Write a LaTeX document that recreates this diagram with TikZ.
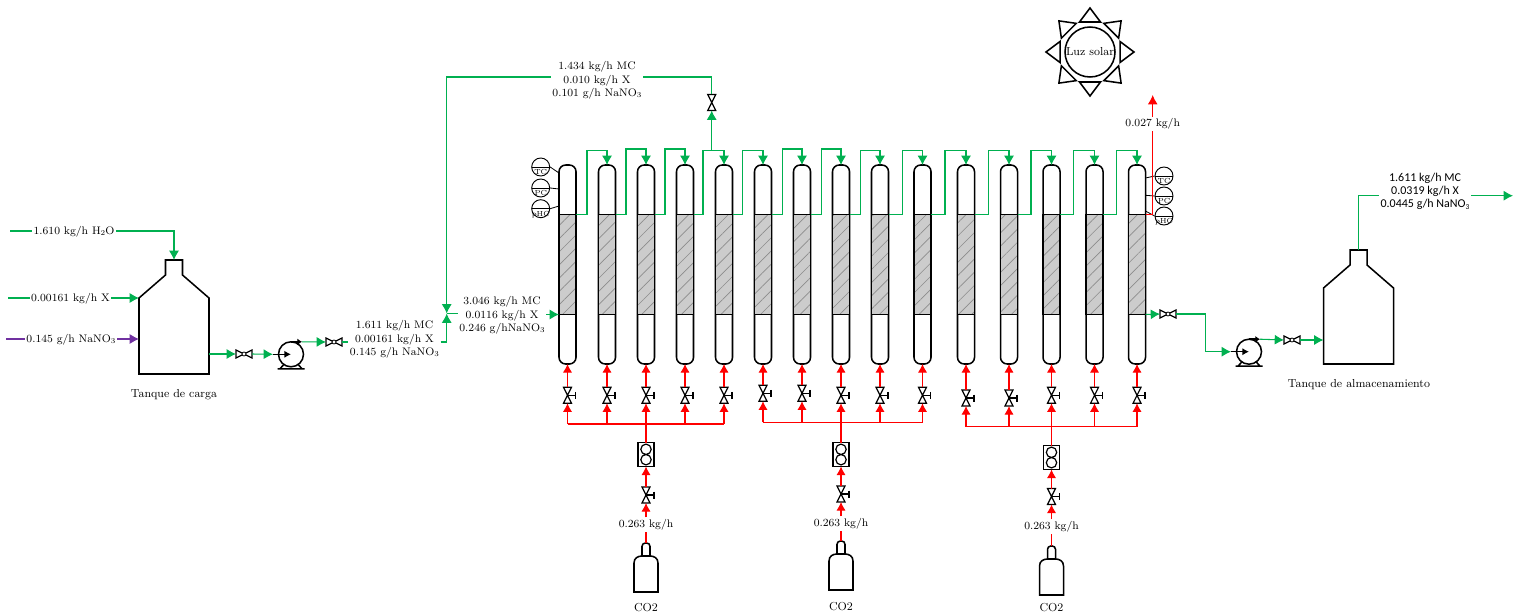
\documentclass[tikz,border=0pt]{standalone}
\usepackage{fontspec}
\newfontfamily\calfont{Carlito}
\usetikzlibrary{arrows.meta,patterns.meta,calc}
\definecolor{flowgreen}{HTML}{00B050}
\definecolor{flowred}{HTML}{FF0000}
\definecolor{flowpurple}{HTML}{7030A0}
\definecolor{bedgray}{HTML}{CCCCCC}
\newcommand{\lowidx}[1]{\raisebox{-0.8pt}{\fontsize{5.6}{5.6}\selectfont #1}}
\newcommand{\nano}{NaNO\lowidx{3}}
\begin{document}
\begin{tikzpicture}[
x=0.75pt,y=-0.75pt,
font=\fontsize{8.7}{10}\selectfont,
sym/.style={draw=black,line width=0.9pt,line join=miter},
sym2/.style={draw=black,line width=1.15pt},
tube/.style={sym2,rectangle,rounded corners=5pt,minimum width=12.75pt,minimum height=149.25pt,inner sep=0pt,outer sep=0pt},
bed/.style={sym2,rectangle,minimum width=12.75pt,minimum height=75pt,inner sep=0pt,outer sep=0pt,
preaction={fill=bedgray},pattern={Lines[angle=45,distance=7pt,line width=0.5pt]},pattern color=black!45},
lbl/.style={align=center,inner sep=1pt},
fl/.style={lbl,font=\fontsize{8.2}{10}\selectfont},
flow/.style={flowgreen,line width=0.8pt},
flowarr/.style={flow,-{Latex[length=7pt,width=7.5pt]}},
feed/.style={flowpurple,line width=0.8pt},
feedarr/.style={feed,-{Latex[length=7pt,width=7.5pt]}},
gas/.style={flowred,line width=0.8pt},
gasarr/.style={gas,-{Latex[length=6.5pt,width=7pt]}},
instr/.style={circle,draw=black,line width=0.7pt,minimum size=13.5pt,inner sep=0pt,font=\fontsize{5.5}{5.5}\selectfont,
path picture={\draw[black,line width=0.7pt] (path picture bounding box.west) -- (path picture bounding box.east);}},
lead/.style={black,line width=0.6pt},
tank/.pic={
\draw[sym2] (-8.5,15) -- (-8.5,0) -- (8.5,0) -- (8.5,15) -- (35,38) -- (35,114) -- (-35,114) -- (-35,38) -- cycle;
\coordinate (-n) at (0,0); \coordinate (-w) at (-35,38); \coordinate (-sw) at (-35,79); \coordinate (-se) at (35,94);
},
hvalve/.pic={
\draw[sym,fill=white] (-8,-4) -- (8,4) -- (8,-4) -- (-8,4) -- cycle;
\draw[sym,fill=white,line width=0.6pt] (0,0) circle (2);
\coordinate (-w) at (-8,0); \coordinate (-e) at (8,0);
},
vvalve/.pic={
\draw[sym,fill=white] (-4,-8) -- (4,-8) -- (-4,8) -- (4,8) -- cycle;
\coordinate (-n) at (0,-8); \coordinate (-s) at (0,8);
},
cvalve/.pic={
\draw[sym,fill=white] (-4,-8) -- (4,-8) -- (-4,8) -- (4,8) -- cycle;
\draw[sym] (0,0) -- (8,0) (8,-3.5) -- (8,3.5);
\coordinate (-n) at (0,-8); \coordinate (-s) at (0,8);
},
pump/.pic={
\draw[sym2,fill=black] (-13.5,14.5) -- (13.5,14.5) (-11,14.5) -- (-7,10) (11,14.5) -- (7,10);
\draw[sym2,fill=white] (0,0) circle (12.5);
\draw[sym2,-{Latex[length=5pt,width=5.5pt]}] (-18,0) -- (0,0);
\draw[sym2,-{Latex[length=3.5pt,width=5pt]}] (0,-12.5) -- (11,-12.5);
\coordinate (-w) at (-18,0); \coordinate (-o) at (11,-12.5);
},
rotameter/.pic={
\draw[sym2,line width=1.3pt,fill=white] (-8,-12) rectangle (8,12);
\draw[sym] (0,-5.2) circle (5.2) (0,5.2) circle (5.2);
\coordinate (-n) at (0,-12); \coordinate (-s) at (0,12);
},
cylinder/.pic={
\draw[sym2,fill=white] (-12,49) -- (-12,20) .. controls (-12,15) and (-8,13) .. (-4,13) -- (4,13) .. controls (8,13) and (12,15) .. (12,20) -- (12,49) -- cycle;
\draw[sym2,rounded corners=2.5pt] (-4,13) -- (-4,0) -- (4,0) -- (4,13);
\coordinate (-n) at (0,0);
}
]
\useasboundingbox (0,0) rectangle (1515,613);

\foreach \n/\xx/\vy in {1/567.5/395.3,2/607/395.3,3/646/395.3,4/685/395.3,5/724/395.3,
6/763/393.3,7/802/393.3,8/841/395.3,9/880/395.3,10/922.5/395.3,
11/966/398,12/1009/398,13/1051.5/395.3,14/1094.5/395.3,15/1137/395.3}{
\node[tube] (c\n) at (\xx,264.5) {};
\node[bed] (b\n) at (\xx,264.5) {};
\pic (v\n) at (\xx,\vy) {cvalve};
\draw[gasarr] (v\n-n) -- (c\n.south);
}

\foreach \a/\b/\tx/\ty in {1/2/587/150.7,2/3/626/149,3/4/665/149,4/5/703/150.3,5/6/742.7/150.7,
6/7/782.3/149,7/8/821.7/149,8/9/860.3/150.7,9/10/902.3/150.7,10/11/945/150.7,
11/12/988.3/150.7,12/13/1031/150.7,13/14/1073.7/150.7,14/15/1116.7/150.7}{
\draw[flowarr] (b\a.north east) -| (\tx,\ty) -| (c\b.north);
}

\foreach \g/\a/\b/\xx/\hy/\ry/\cy/\sy/\ly/\ty in {1/1/5/646/424/454.5/495/543/524.5/607.5,
2/6/10/841/422.3/454.5/494/541/523.5/606.5,3/11/15/1051.5/426.7/457.5/496.5/546/526.5/607.5}{
\coordinate (hd\g) at (\xx,\hy);
\draw[gas] (v\a-s |- hd\g) -- (v\b-s |- hd\g);
\foreach \n in {\a,...,\b}{\draw[gasarr] (v\n-s |- hd\g) -- (v\n-s);}
\pic (rt\g) at (\xx,\ry) {rotameter};
\pic (vg\g) at (\xx,\cy) {cvalve};
\pic (cy\g) at (\xx,\sy) {cylinder};
\node[fl] (lg\g) at (\xx,\ly) {0.263 kg/h};
\node[lbl] (co\g) at (\xx,\ty) {CO2};
\draw[gas,line width=1.2pt] (hd\g) -- (rt\g-n);
\draw[gasarr] (vg\g-n) -- (rt\g-s);
\draw[gasarr] (lg\g) -- (vg\g-s);
\draw[gas] (cy\g-n) -- (lg\g);
}

\pic (tk1) at (174,260) {tank};
\pic (tk2) at (1358.5,250) {tank};
\node[lbl] (ntk1) at (174,395) {Tanque de carga};
\node[lbl] (ntk2) at (1359,385) {Tanque de almacenamiento};

\coordinate (in1) at (10,231);
\coordinate (in2) at (8,298);
\coordinate (in3) at (6,339);
\node[fl] (l1) at (74,232) {1.610 kg/h H\lowidx{2}O};
\node[fl] (l2) at (70.5,299) {0.00161 kg/h X};
\node[fl] (l3) at (71,340) {0.145 g/h \nano};
\draw[flow] (in1) -- (in1 -| l1.west);
\draw[flowarr] (in1 -| l1.east) -| (tk1-n);
\draw[flow] (in2) -- (in2 -| l2.west);
\draw[flowarr] (in2 -| l2.east) -- (tk1-w);
\draw[feed] (in3) -- (in3 -| l3.west);
\draw[feedarr] (in3 -| l3.east) -- (in3 -| tk1-sw);

\pic (vf1) at (244,354) {hvalve};
\pic (pm1) at (291,354.3) {pump};
\pic (vf2) at (334,342) {hvalve};
\draw[flowarr] (tk1-se) -- (vf1-w);
\draw[flowarr] (vf1-e) -- (pm1-w);
\draw[flowarr] (pm1-o) -- (vf2-w);

\node[fl] (lmix) at (394.5,339.5) {1.611 kg/h MC\\0.00161 kg/h X\\0.145 g/h \nano};
\node[fl] (lfeed) at (502,315.5) {3.046 kg/h MC\\0.0116 kg/h X\\0.246 g/h\nano};
\node[fl] (lrec) at (597,80.5) {1.434 kg/h MC\\0.010 kg/h X\\0.101 g/h \nano};
\coordinate (jn) at (446.7,313.5);
\coordinate (jr) at (711.7,150.3);
\coordinate (rc) at (597,77);
\pic (vr) at (711.7,102.5) {vvalve};
\draw[flow] (vf2-e) -- (lmix.west |- vf2-e);
\draw[flowarr] (lmix.east |- vf2-e) -| (jn);
\draw[flowarr] (lrec.west |- rc) -| (jn);
\draw[flow] (jn) -- (lfeed.west |- jn);
\draw[flowarr] (lfeed.east |- b1.south) -- (b1.south west);
\draw[flow] (vr-n) |- (lrec.east |- rc);
\draw[flowarr] (jr) -- (vr-s);

\foreach \n/\yy/\ty/\ly in {1/167/TC/173,2/188/PC/189,3/208.7/pHC/206}{
\node[instr] (il\n) at (540.7,\yy) {\raisebox{-5.8pt}[0pt][0pt]{\ty}};
\draw[lead] (il\n.east) -- (c1.west |- 0,\ly);
}
\foreach \n/\yy/\ty/\ly in {1/176/TC/178,2/196/PC/195.3,3/216/pHC/211}{
\node[instr] (ir\n) at (1164,\yy) {\raisebox{-5.8pt}[0pt][0pt]{\ty}};
\draw[lead] (ir\n.west) -- (c15.east |- 0,\ly);
}

\node[fl] (lv) at (1152.7,124) {0.027 kg/h};
\coordinate (vt) at (1152.7,95);
\draw[gas,line width=1pt] (b15.north east) -| (lv);
\draw[gas,line width=1pt,-{Latex[length=7pt,width=7.5pt]}] (lv) -- (vt);

\pic (vf3) at (1168,314) {hvalve};
\pic (pm2) at (1249,351.7) {pump};
\pic (vf4) at (1292,340) {hvalve};
\coordinate (tp) at (1205.3,340);
\draw[flowarr] (b15.south east) -- (vf3-w);
\draw[flowarr] (vf3-e) -| (tp) |- (pm2-w);
\draw[flowarr] (pm2-o) -- (vf4-w);
\draw[flowarr] (vf4-e) -- (vf4-e -| tk2-sw);

\node[lbl,font=\calfont\fontsize{9}{10}\selectfont] (lout) at (1425,191.5) {1.611 kg/h MC\\0.0319 kg/h X\\0.0445 g/h \nano};
\coordinate (ot) at (1513,195.7);
\draw[flow] (tk2-n) |- (lout.west |- ot);
\draw[flowarr] (lout.east |- ot) -- (ot);

\node[circle,sym2,minimum size=37.5pt,inner sep=0pt] (sun) at (1090,52) {Luz solar};
\foreach \ang in {0,45,...,315}{
\draw[sym2,rotate around={\ang:(sun.center)}] ($(sun.center)+(30,-10.5)$) -- ($(sun.center)+(44,0)$) -- ($(sun.center)+(30,10.5)$) -- cycle;
}
\end{tikzpicture}
\end{document}
